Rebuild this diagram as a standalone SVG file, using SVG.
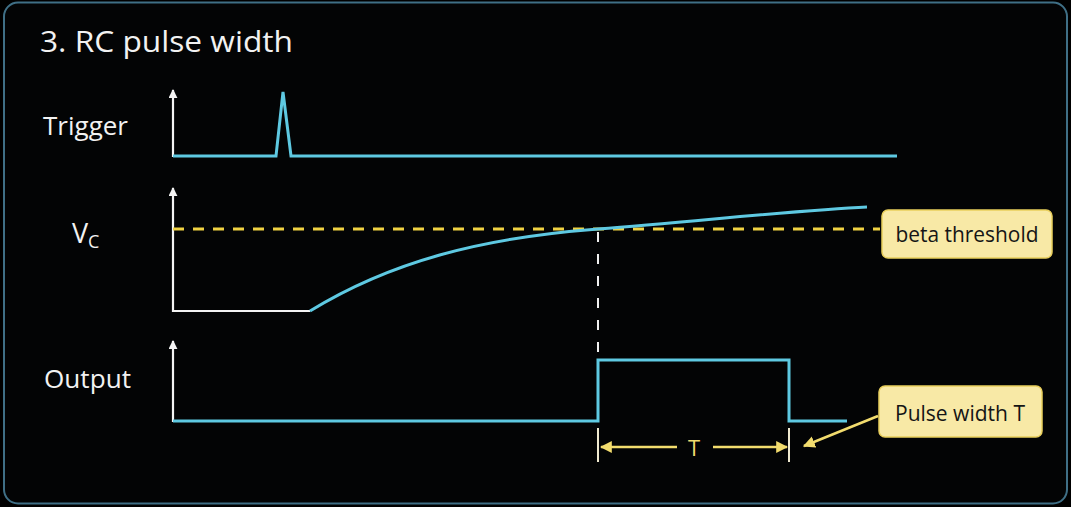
<svg xmlns="http://www.w3.org/2000/svg" width="1071" height="507" viewBox="0 0 1071 507">
<defs>
<style>
.lbl{font-family:"Open Sans","Liberation Sans",Arial,sans-serif;fill:#f2f2f2}
.axis{stroke:#f4f4f4;stroke-width:2.2;fill:none}
.sig{stroke:#5ec9e2;stroke-width:3;fill:none;stroke-linejoin:miter}
.box{fill:#f8e9a6;stroke:#e9cf5c;stroke-width:1.5}
.boxt{font-family:"Open Sans","Liberation Sans",Arial,sans-serif;font-size:21px;fill:#151515;text-anchor:middle}
.yel{stroke:#f2dc6e;stroke-width:2.5;fill:none}
</style>
<marker id="ah" viewBox="0 0 10 10" refX="9" refY="5" markerWidth="9" markerHeight="9" markerUnits="userSpaceOnUse" orient="auto"><path d="M0,0 L10,5 L0,10 z" fill="#f4f4f4"/></marker>
<marker id="ya" viewBox="0 0 10 10" refX="9" refY="5" markerWidth="12" markerHeight="12" markerUnits="userSpaceOnUse" orient="auto"><path d="M0,0 L10,5 L0,10 z" fill="#f2dc6e"/></marker>
</defs>
<rect x="0" y="0" width="1071" height="507" fill="#000"/>
<rect x="4" y="2.5" width="1063" height="501" rx="14" fill="#030405" stroke="#3f6f86" stroke-width="2"/>
<text class="lbl" x="40" y="52" font-size="29" textLength="253" lengthAdjust="spacingAndGlyphs">3. RC pulse width</text>

<g id="trigger">
<text class="lbl" x="43" y="135" font-size="25" textLength="85" lengthAdjust="spacingAndGlyphs">Trigger</text>
<path class="axis" d="M173,157 L173,90" marker-end="url(#ah)"/>
<path class="sig" d="M173,156 L276,156 L283,92 L291,156 L897,156"/>
</g>

<g id="vc">
<text class="lbl" x="72" y="243" font-size="27">V<tspan font-size="18" dy="5">C</tspan></text>
<path class="axis" d="M173,312 L173,188" marker-end="url(#ah)"/>
<path d="M173,229 L880,229" stroke="#f0d243" stroke-width="3" stroke-dasharray="11 9" fill="none"/>
<path class="axis" d="M173,311 L310,311"/>
<path class="sig" d="M310,311 C390,262 480,238 598,229 C700,221 800,210 867,207"/>
</g>

<g id="threshold-label">
<rect class="box" x="882" y="210" width="170" height="48" rx="6"/>
<text class="boxt" x="967" y="242" textLength="143" lengthAdjust="spacingAndGlyphs">beta threshold</text>
</g>

<g id="output">
<text class="lbl" x="44" y="388" font-size="25" textLength="87" lengthAdjust="spacingAndGlyphs">Output</text>
<path class="axis" d="M173,422 L173,341" marker-end="url(#ah)"/>
<path class="sig" d="M173,421 L598,421 L598,360 L789,360 L789,421 L847,421"/>
</g>

<g id="pulse-label">
<rect class="box" x="879" y="386" width="163" height="51" rx="6"/>
<text class="boxt" x="960" y="421" textLength="130" lengthAdjust="spacingAndGlyphs">Pulse width T</text>
</g>

<g id="connectors">
<path d="M598,232 L598,358" stroke="#f0f0f0" stroke-width="2" stroke-dasharray="10 12" fill="none"/>
<path d="M598,428 L598,462 M789,428 L789,462" stroke="#f0ead0" stroke-width="2" fill="none"/>
<path class="yel" d="M677,447 L601,447" marker-end="url(#ya)"/>
<path class="yel" d="M713,447 L787,447" marker-end="url(#ya)"/>
<text x="694" y="456" font-family="Open Sans,Liberation Sans,Arial,sans-serif" font-size="22" fill="#f2dc6e" text-anchor="middle">T</text>
<path class="yel" d="M878,416 L804,446" marker-end="url(#ya)"/>
</g>
</svg>
